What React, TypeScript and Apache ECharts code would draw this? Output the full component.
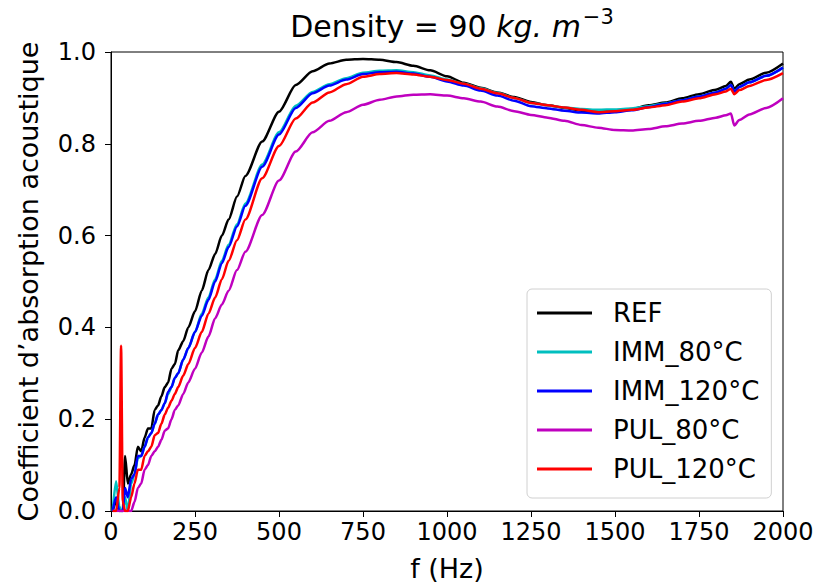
import React, { useEffect, useRef } from "react";
import * as echarts from "echarts";

const freqHz = [5, 15, 25, 30, 35, 42, 50, 60, 70, 80, 90, 100, 110, 120, 130, 140, 150, 160, 170, 180, 190, 200, 215, 230, 250, 270, 290, 310, 330, 350, 375, 400, 450, 500, 550, 600, 650, 700, 750, 800, 850, 900, 950, 1000, 1050, 1100, 1150, 1200, 1250, 1300, 1350, 1400, 1450, 1500, 1550, 1600, 1650, 1700, 1750, 1800, 1830, 1845, 1855, 1870, 1900, 1950, 2000];

const refVals = [0.0, 0.02, 0.0, 0.0, 0.0, 0.12, 0.06, 0.08, 0.1, 0.14, 0.13, 0.16, 0.18, 0.18, 0.22, 0.23, 0.25, 0.27, 0.28, 0.31, 0.32, 0.35, 0.37, 0.4, 0.435, 0.48, 0.525, 0.56, 0.6, 0.635, 0.685, 0.73, 0.805, 0.87, 0.928, 0.958, 0.975, 0.983, 0.985, 0.983, 0.978, 0.97, 0.96, 0.947, 0.933, 0.922, 0.912, 0.902, 0.891, 0.884, 0.878, 0.872, 0.87, 0.872, 0.876, 0.884, 0.89, 0.899, 0.908, 0.918, 0.926, 0.935, 0.92, 0.93, 0.94, 0.955, 0.975];

const imm80Vals = [0.0, 0.065, 0.01, 0.0, 0.0, 0.03, 0.0, 0.06, 0.08, 0.115, 0.12, 0.14, 0.16, 0.17, 0.19, 0.21, 0.22, 0.235, 0.255, 0.27, 0.29, 0.3, 0.33, 0.355, 0.39, 0.43, 0.465, 0.505, 0.545, 0.58, 0.625, 0.67, 0.755, 0.825, 0.883, 0.913, 0.93, 0.943, 0.955, 0.959, 0.96, 0.956, 0.949, 0.94, 0.931, 0.921, 0.911, 0.9, 0.889, 0.884, 0.879, 0.876, 0.874, 0.875, 0.877, 0.882, 0.888, 0.895, 0.903, 0.912, 0.92, 0.928, 0.914, 0.924, 0.934, 0.948, 0.966];

const imm120Vals = [0.0, 0.03, 0.0, 0.0, 0.0, 0.05, 0.03, 0.07, 0.08, 0.12, 0.12, 0.14, 0.16, 0.17, 0.19, 0.21, 0.22, 0.235, 0.26, 0.27, 0.29, 0.3, 0.33, 0.355, 0.39, 0.425, 0.46, 0.5, 0.54, 0.575, 0.62, 0.665, 0.75, 0.82, 0.878, 0.91, 0.927, 0.94, 0.952, 0.956, 0.957, 0.953, 0.946, 0.936, 0.927, 0.916, 0.905, 0.894, 0.882, 0.877, 0.872, 0.868, 0.866, 0.869, 0.873, 0.88, 0.887, 0.895, 0.903, 0.912, 0.92, 0.928, 0.914, 0.924, 0.934, 0.948, 0.966];

const pul80Vals = [0.0, 0.0, 0.0, 0.0, 0.0, 0.0, 0.0, 0.0, 0.02, 0.05, 0.06, 0.09, 0.1, 0.12, 0.13, 0.14, 0.155, 0.175, 0.18, 0.2, 0.22, 0.23, 0.255, 0.28, 0.31, 0.345, 0.38, 0.42, 0.45, 0.48, 0.525, 0.565, 0.645, 0.72, 0.783, 0.825, 0.85, 0.869, 0.885, 0.896, 0.903, 0.907, 0.908, 0.905, 0.899, 0.892, 0.881, 0.871, 0.863, 0.857, 0.85, 0.841, 0.835, 0.83, 0.829, 0.832, 0.838, 0.844, 0.85, 0.857, 0.862, 0.866, 0.84, 0.852, 0.864, 0.878, 0.899];

const pul120Vals = [0.0, 0.0, 0.05, 0.36, 0.02, 0.0, 0.0, 0.03, 0.06, 0.09, 0.09, 0.12, 0.13, 0.14, 0.165, 0.17, 0.19, 0.21, 0.225, 0.24, 0.255, 0.27, 0.295, 0.32, 0.355, 0.39, 0.43, 0.465, 0.505, 0.545, 0.59, 0.635, 0.725, 0.795, 0.855, 0.89, 0.912, 0.93, 0.946, 0.952, 0.954, 0.951, 0.946, 0.939, 0.931, 0.92, 0.91, 0.9, 0.889, 0.884, 0.879, 0.874, 0.869, 0.871, 0.874, 0.879, 0.884, 0.892, 0.899, 0.908, 0.914, 0.92, 0.908, 0.917, 0.926, 0.939, 0.954];

const seriesNames = ["REF", "IMM_80°C", "IMM_120°C", "PUL_80°C", "PUL_120°C"];
const seriesColors = ["#000000", "#00bfbf", "#0000ff", "#bf00bf", "#ff0000"];
const seriesValues = [refVals, imm80Vals, imm120Vals, pul80Vals, pul120Vals];

const FONT = "DejaVu Sans";

export default function App() {
  const ref = useRef<HTMLDivElement>(null);
  useEffect(() => {
    if (!ref.current) return;
    const chart = echarts.init(ref.current, undefined, { renderer: "svg" });
    chart.setOption({
      animation: false,
      backgroundColor: "#ffffff",
      textStyle: { fontFamily: FONT },
      title: {
        text: "{n|Density = 90 }{i|kg. m}{s|−3}",
        left: 447,
        top: 1,
        textAlign: "center",
        textStyle: {
          fontWeight: "normal",
          rich: {
            n: { fontFamily: FONT, fontSize: 30, fontWeight: "normal", color: "#000", verticalAlign: "bottom" },
            i: { fontFamily: FONT, fontSize: 30, fontWeight: "normal", fontStyle: "italic", color: "#000", verticalAlign: "bottom" },
            s: { fontFamily: FONT, fontSize: 21, fontWeight: "normal", color: "#000", verticalAlign: "bottom", padding: [0, 0, 14, 2] },
          },
        },
      },
      legend: {
        orient: "vertical",
        left: 527,
        top: 289,
        padding: [9, 12, 14, 10],
        itemGap: 9,
        itemWidth: 55,
        itemHeight: 3,
        icon: "rect",
        backgroundColor: "#ffffff",
        borderColor: "#d0d0d0",
        borderWidth: 1,
        borderRadius: 5,
        textStyle: { fontFamily: FONT, fontSize: 26, color: "#000", lineHeight: 30, padding: [0, 0, 0, 16] },
        data: seriesNames,
      },
      grid: {
        left: 111,
        right: 38,
        top: 52,
        bottom: 72,
        outerBoundsMode: "none",
        containLabel: false,
        show: true,
        borderColor: "#000",
        borderWidth: 1,
        backgroundColor: "transparent",
      },
      xAxis: {
        type: "value",
        min: 0,
        max: 2000,
        interval: 250,
        name: "f (Hz)",
        nameLocation: "middle",
        nameGap: 44,
        nameTextStyle: { fontFamily: FONT, fontSize: 27, color: "#000" },
        axisLine: { show: true, lineStyle: { color: "#000", width: 1 } },
        axisTick: { show: true, length: 6, lineStyle: { color: "#000" } },
        axisLabel: { fontFamily: FONT, fontSize: 24, color: "#000", margin: 9, formatter: (v: number) => String(v) },
        splitLine: { show: false },
      },
      yAxis: {
        type: "value",
        min: 0,
        max: 1,
        interval: 0.2,
        name: "Coefficient d’absorption acoustique",
        nameLocation: "middle",
        nameGap: 69,
        nameTextStyle: { fontFamily: FONT, fontSize: 27, color: "#000" },
        axisLine: { show: true, lineStyle: { color: "#000", width: 1 } },
        axisTick: { show: true, length: 6, lineStyle: { color: "#000" } },
        axisLabel: {
          fontFamily: FONT,
          fontSize: 24,
          color: "#000",
          margin: 15,
          formatter: (v: number) => v.toFixed(1),
        },
        splitLine: { show: false },
      },
      series: seriesNames.map((name, k) => ({
        name,
        type: "line",
        showSymbol: false,
        symbol: "none",
        clip: true,
        smooth: 0.25,
        smoothMonotone: "x",
        color: seriesColors[k],
        lineStyle: { color: seriesColors[k], width: 2.5 },
        data: freqHz.map((f, i) => [f, seriesValues[k][i]]),
        z: 2 + k,
      })),
    });
    return () => chart.dispose();
  }, []);
  return (
    <div
      ref={ref}
      style={{ position: "fixed", left: 0, top: 0, width: 821, height: 583 }}
    />
  );
}
